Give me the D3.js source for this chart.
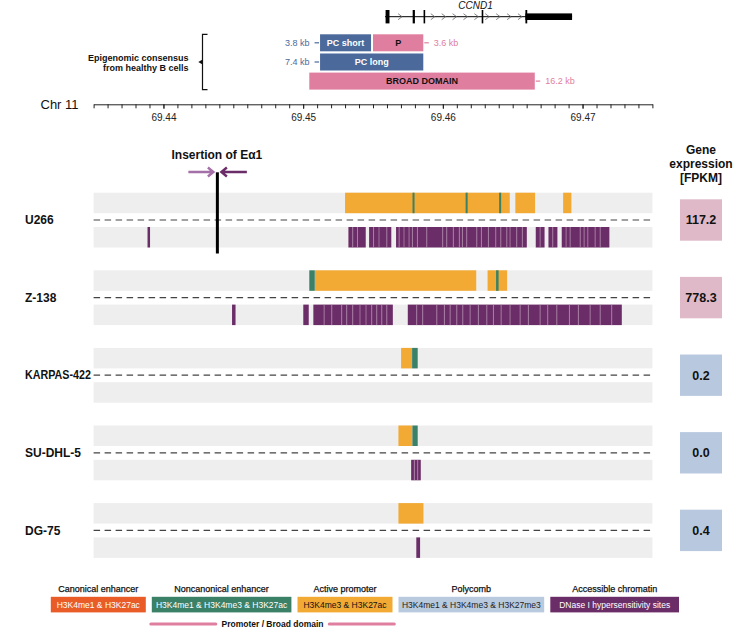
<!DOCTYPE html>
<html>
<head>
<meta charset="utf-8">
<script src="https://cdn.jsdelivr.net/npm/d3@7"></script>
<style>
    body { margin: 0; background: #fff; }
    svg { font-family: "Liberation Sans", Arial, sans-serif; }
</style>
</head>
<body>
<svg id="chart"></svg>
<script>
// genomic window (Mb) and axis ticks
const genomeRange = [69.435, 69.475]
const majorTicks = [69.44, 69.45, 69.46, 69.47]

// CCND1 gene model
const geneName = "CCND1"
const geneSpan = [69.45586, 69.46925]
const geneExons = [[69.45590, 69.45618], [69.45784, 69.45800], [69.45862, 69.45873], [69.46278, 69.46287], [69.46591, 69.46604]]
const geneUtr = [69.46591, 69.46925]

// epigenomic consensus from healthy B cells
const consensusNames = ["PC short", "P", "PC long", "BROAD DOMAIN"]
const consensusStart = [69.45121, 69.45500, 69.45121, 69.45044]
const consensusEnd = [69.45486, 69.45860, 69.45860, 69.46658]
const consensusSize = ["3.8 kb", "3.6 kb", "7.4 kb", "16.2 kb"]
const consensusRow = [0, 0, 1, 2]
const consensusType = ["PC", "P", "PC", "P"]

const insertionPos = 69.44386

// cell lines
const cellLines = ["U266", "Z-138", "KARPAS-422", "SU-DHL-5", "DG-75"]
const fpkm = [117.2, 778.3, 0.2, 0.0, 0.4]

const promoterRegions = [
    [[69.45300, 69.46479], [69.46519, 69.46660], [69.46861, 69.46920]],
    [[69.45083, 69.46239], [69.46320, 69.46460]],
    [[69.45701, 69.45780]],
    [[69.45682, 69.45782]],
    [[69.45682, 69.45861]]
]

const noncanonicalRegions = [
    [[69.45783, 69.45797], [69.46163, 69.46177], [69.46403, 69.46417]],
    [[69.45044, 69.45083], [69.46381, 69.46399]],
    [[69.45780, 69.45820]],
    [[69.45782, 69.45820]],
    []
]

// DNase I hypersensitivity sites, adjacent peaks given as boundary lists
const dhsClusters = [
    [
        [69.43886, 69.43904],
        [69.45324, 69.45355, 69.45389, 69.45448],
        [69.45472, 69.45504, 69.45543, 69.45599, 69.45631],
        [69.45665, 69.45687, 69.45722, 69.45758, 69.45782, 69.45818, 69.45885, 69.45999, 69.46028, 69.46075, 69.46118, 69.46140, 69.46171, 69.46243, 69.46276, 69.46326, 69.46379, 69.46415, 69.46458, 69.46481, 69.46529, 69.46569, 69.46601],
        [69.46665, 69.46696, 69.46728],
        [69.46756, 69.46787, 69.46820],
        [69.46851, 69.46882, 69.46911, 69.46983, 69.47011, 69.47038, 69.47090, 69.47126, 69.47192]
    ],
    [
        [69.44491, 69.44516],
        [69.45001, 69.45040],
        [69.45073, 69.45150, 69.45205, 69.45276, 69.45312, 69.45355, 69.45407, 69.45450, 69.45491, 69.45527, 69.45563, 69.45599, 69.45642],
        [69.45749, 69.45813, 69.45856, 69.45957, 69.46011, 69.46052, 69.46100, 69.46143, 69.46195, 69.46254, 69.46315, 69.46362, 69.46417, 69.46481, 69.46553, 69.46612, 69.46696, 69.46751, 69.46816, 69.46906, 69.46970, 69.47054, 69.47126, 69.47209, 69.47281]
    ],
    [],
    [[69.45773, 69.45796, 69.45820, 69.45842]],
    [[69.45810, 69.45837]]
]

// legend
const legendTitles = ["Canonical enhancer", "Noncanonical enhancer", "Active promoter", "Polycomb", "Accessible chromatin"]
const legendMarks = ["H3K4me1 & H3K27ac", "H3K4me1 & H3K4me3 & H3K27ac", "H3K4me3 & H3K27ac", "H3K4me1 & H3K4me3 & H3K27me3", "DNase I hypersensitivity sites"]

const COLORS = {
    canonical: "#e95c28",
    noncanonical: "#3a8168",
    promoter: "#f2aa35",
    polycomb: "#b9cadf",
    dhs: "#6b2d67",
    band: "#eeeeee",
    pcBlue: "#4b699b",
    pPink: "#e07e9f",
    exprHigh: "#dfb9c8",
    exprLow: "#b8c9df"
}
const legendColors = [COLORS.canonical, COLORS.noncanonical, COLORS.promoter, COLORS.polycomb, COLORS.dhs]
const legendTextColors = ["#fff", "#fff", "#111", "#222", "#fff"]

const W = 733, H = 628

const svg = d3.select('#chart').attr('width', W).attr('height', H)

const x = d3.scaleLinear().domain(genomeRange).range([93.6, 652.4])

// ---- gene track ----
const geneY = 16.7
const gene = svg.append('g')

gene.append('line')
    .attr('x1', x(geneSpan[0])).attr('x2', x(geneSpan[1]))
    .attr('y1', geneY).attr('y2', geneY)
    .attr('stroke', '#000').attr('stroke-width', 1)

// strand chevrons in the introns
const chevrons = d3.range(geneSpan[0] + 0.0003, geneUtr[0] - 0.0002, 0.00078)
    .filter(p => !geneExons.some(e => p > e[0] - 0.00018 && p < e[1] + 0.00018))
gene.selectAll('.chev')
    .data(chevrons)
    .join('path')
        .attr('class', 'chev')
        .attr('d', p => `M${x(p) - 2},${geneY - 3} L${x(p) + 2},${geneY} L${x(p) - 2},${geneY + 3}`)
        .attr('fill', 'none')
        .attr('stroke', '#666')
        .attr('stroke-width', 0.8)

gene.append('rect')
    .attr('x', x(geneUtr[0])).attr('width', x(geneUtr[1]) - x(geneUtr[0]))
    .attr('y', geneY - 3.3).attr('height', 6.6)
    .attr('fill', '#000')

gene.selectAll('.exon')
    .data(geneExons)
    .join('rect')
        .attr('class', 'exon')
        .attr('x', d => x(d[0]))
        .attr('width', d => Math.max(1.6, x(d[1]) - x(d[0])))
        .attr('y', geneY - 6.7)
        .attr('height', 13.4)
        .attr('fill', '#000')

gene.append('text')
    .attr('x', x(d3.mean(geneSpan)) - 3)
    .attr('y', 8.8)
    .attr('text-anchor', 'middle')
    .attr('font-size', 10)
    .attr('font-style', 'italic')
    .attr('fill', '#111')
    .text(geneName)

// ---- consensus ----
const rowTop = [34.3, 53.5, 72.6]
const rowH = 17
const cons = svg.append('g')

cons.append('path')
    .attr('d', `M207.5,${rowTop[0]} H202.5 V${rowTop[2] + rowH} H207.5`)
    .attr('fill', 'none').attr('stroke', '#111').attr('stroke-width', 1.2)
cons.append('path')
    .attr('d', 'M202.5,59.6 L198.3,62 L202.5,64.4 Z')
    .attr('fill', '#111')

cons.selectAll('.ctitle')
    .data(["Epigenomic consensus", "from healthy B cells"])
    .join('text')
        .attr('class', 'ctitle')
        .attr('x', 188.5)
        .attr('y', (d, i) => 60.6 + i * 10.7)
        .attr('text-anchor', 'end')
        .attr('font-size', 9)
        .attr('font-weight', 'bold')
        .attr('fill', '#111')
        .text(d => d)

const consData = consensusNames.map((n, i) => ({
    name: n, start: consensusStart[i], end: consensusEnd[i],
    size: consensusSize[i], row: consensusRow[i], type: consensusType[i]
}))

const cg = cons.selectAll('.cbox')
    .data(consData)
    .join('g')
        .attr('class', 'cbox')

cg.append('rect')
    .attr('x', d => x(d.start))
    .attr('width', d => x(d.end) - x(d.start))
    .attr('y', d => rowTop[d.row])
    .attr('height', rowH)
    .attr('fill', d => d.type == "PC" ? COLORS.pcBlue : COLORS.pPink)

cg.append('text')
    .attr('x', d => (x(d.start) + x(d.end)) / 2)
    .attr('y', d => rowTop[d.row] + rowH / 2 + 3.3)
    .attr('text-anchor', 'middle')
    .attr('font-size', 9)
    .attr('font-weight', 'bold')
    .attr('fill', d => d.type == "PC" ? '#fff' : '#111')
    .text(d => d.name)

// size labels: PC on the left, P/broad on the right
cg.append('line')
    .attr('x1', d => d.type == "PC" ? x(d.start) - 5.5 : x(d.end) + 1)
    .attr('x2', d => d.type == "PC" ? x(d.start) - 1 : x(d.end) + 5.5)
    .attr('y1', d => rowTop[d.row] + rowH / 2)
    .attr('y2', d => rowTop[d.row] + rowH / 2)
    .attr('stroke', d => d.type == "PC" ? COLORS.pcBlue : COLORS.pPink)
    .attr('stroke-width', 1.2)

cg.append('text')
    .attr('x', d => d.type == "PC" ? x(d.start) - 10.5 : x(d.end) + 10.5)
    .attr('y', d => rowTop[d.row] + rowH / 2 + 3.3)
    .attr('text-anchor', d => d.type == "PC" ? 'end' : 'start')
    .attr('font-size', 9)
    .attr('fill', d => d.type == "PC" ? COLORS.pcBlue : COLORS.pPink)
    .text(d => d.size)

// ---- axis ----
const axisY = 104.3
const minorTicks = d3.range(0, 41).map(i => +(genomeRange[0] + i * 0.001).toFixed(3))

const minorAxis = svg.append('g')
    .attr('transform', `translate(0,${axisY})`)
    .call(d3.axisBottom(x).tickValues(minorTicks).tickFormat('').tickSize(4).tickSizeOuter(0))
const majorAxis = svg.append('g')
    .attr('transform', `translate(0,${axisY})`)
    .call(d3.axisBottom(x).tickValues(majorTicks).tickFormat(d3.format('.2f')).tickSize(4.5).tickPadding(5))
majorAxis.select('.domain').remove()
svg.selectAll('.tick line, .domain').attr('stroke', '#222').attr('stroke-width', 1)
majorAxis.selectAll('text')
    .attr('font-family', '"Liberation Sans", Arial, sans-serif')
    .attr('font-size', 10)
    .attr('fill', '#222')

svg.append('text')
    .attr('x', 40.5).attr('y', 109)
    .attr('font-size', 13)
    .attr('fill', '#111')
    .text('Chr 11')

// ---- insertion marker ----
const ix = x(insertionPos)
svg.append('text')
    .attr('x', ix - 0.5).attr('y', 158.6)
    .attr('text-anchor', 'middle')
    .attr('font-size', 12)
    .attr('font-weight', 'bold')
    .attr('fill', '#111')
    .text('Insertion of E\u03b11')

const arrowY = 172
svg.append('path')
    .attr('d', `M${ix - 29},${arrowY} H${ix - 4} M${ix - 9.5},${arrowY - 4.5} L${ix - 4},${arrowY} L${ix - 9.5},${arrowY + 4.5}`)
    .attr('fill', 'none').attr('stroke', '#a56fa8').attr('stroke-width', 2.4)
svg.append('path')
    .attr('d', `M${ix + 29.5},${arrowY} H${ix + 4} M${ix + 9.5},${arrowY - 4.5} L${ix + 4},${arrowY} L${ix + 9.5},${arrowY + 4.5}`)
    .attr('fill', 'none').attr('stroke', COLORS.dhs).attr('stroke-width', 2.4)

// ---- expression header ----
svg.selectAll('.ehead')
    .data(["Gene", "expression", "[FPKM]"])
    .join('text')
        .attr('class', 'ehead')
        .attr('x', 701)
        .attr('y', (d, i) => 154.3 + i * 13.6)
        .attr('text-anchor', 'middle')
        .attr('font-size', 12)
        .attr('font-weight', 'bold')
        .attr('fill', '#111')
        .text(d => d)

// ---- cell line tracks ----
const trackTop0 = 192.7
const trackPitch = 77.6
const bandH = 20.5
const dashOff = 27.3
const lowOff = 34.3
const labelMaxW = 66

const fmt = d3.format('.1f')

cellLines.forEach((name, i) => {
    const g = svg.append('g').attr('transform', `translate(0,${trackTop0 + i * trackPitch})`)

    g.append('rect')
        .attr('x', x.range()[0]).attr('width', x.range()[1] - x.range()[0])
        .attr('y', 0).attr('height', bandH)
        .attr('fill', COLORS.band)
    g.append('rect')
        .attr('x', x.range()[0]).attr('width', x.range()[1] - x.range()[0])
        .attr('y', lowOff).attr('height', bandH)
        .attr('fill', COLORS.band)

    g.append('line')
        .attr('x1', x.range()[0]).attr('x2', x.range()[1])
        .attr('y1', dashOff).attr('y2', dashOff)
        .attr('stroke', '#444').attr('stroke-width', 1.2)
        .attr('stroke-dasharray', '6.5,4.5')

    g.selectAll('.prom')
        .data(promoterRegions[i])
        .join('rect')
            .attr('class', 'prom')
            .attr('x', d => x(d[0]))
            .attr('width', d => x(d[1]) - x(d[0]))
            .attr('y', 0).attr('height', bandH)
            .attr('fill', COLORS.promoter)

    g.selectAll('.nonc')
        .data(noncanonicalRegions[i])
        .join('rect')
            .attr('class', 'nonc')
            .attr('x', d => x(d[0]))
            .attr('width', d => Math.max(2, x(d[1]) - x(d[0])))
            .attr('y', 0).attr('height', bandH)
            .attr('fill', COLORS.noncanonical)

    const peaks = []
    const seps = []
    dhsClusters[i].forEach(c => {
        for (let k = 0; k < c.length - 1; k++) peaks.push([c[k], c[k + 1]])
        for (let k = 1; k < c.length - 1; k++) seps.push(c[k])
    })

    g.selectAll('.dhs')
        .data(peaks)
        .join('rect')
            .attr('class', 'dhs')
            .attr('x', d => x(d[0]))
            .attr('width', d => Math.max(1.8, x(d[1]) - x(d[0])))
            .attr('y', lowOff).attr('height', bandH)
            .attr('fill', COLORS.dhs)

    g.selectAll('.sep')
        .data(seps)
        .join('line')
            .attr('class', 'sep')
            .attr('x1', d => x(d)).attr('x2', d => x(d))
            .attr('y1', lowOff).attr('y2', lowOff + bandH)
            .attr('stroke', '#b48fb0')
            .attr('stroke-width', 0.7)

    const lab = g.append('text')
        .attr('x', 25).attr('y', dashOff + 4.3)
        .attr('font-size', 12)
        .attr('font-weight', 'bold')
        .attr('fill', '#111')
        .text(name)
    if (lab.node().getComputedTextLength() > labelMaxW)
        lab.attr('textLength', labelMaxW).attr('lengthAdjust', 'spacingAndGlyphs')

    g.append('rect')
        .attr('x', 680).attr('width', 42)
        .attr('y', dashOff - 20.7).attr('height', 41.4)
        .attr('fill', fpkm[i] >= 10 ? COLORS.exprHigh : COLORS.exprLow)
    g.append('text')
        .attr('x', 701).attr('y', dashOff + 4.5)
        .attr('text-anchor', 'middle')
        .attr('font-size', 12.5)
        .attr('font-weight', 'bold')
        .attr('fill', '#111')
        .text(fmt(fpkm[i]))
})

// insertion line drawn over the U266 track
svg.append('line')
    .attr('x1', ix).attr('x2', ix)
    .attr('y1', 172.3).attr('y2', 253.5)
    .attr('stroke', '#000').attr('stroke-width', 3)

// ---- legend ----
const legendX = [50.8, 151.8, 297.5, 398.5, 550.3]
const legendW = [95, 139.6, 95, 145.7, 128.7]
const legend = svg.append('g')

legendTitles.forEach((t, i) => {
    const cx = legendX[i] + legendW[i] / 2
    legend.append('text')
        .attr('x', cx).attr('y', 592.2)
        .attr('text-anchor', 'middle')
        .attr('font-size', 9)
        .attr('fill', '#111')
        .attr('stroke', '#111')
        .attr('stroke-width', 0.25)
        .text(t)
    legend.append('rect')
        .attr('x', legendX[i]).attr('width', legendW[i])
        .attr('y', 596.8).attr('height', 15.6)
        .attr('fill', legendColors[i])
    legend.append('text')
        .attr('x', cx).attr('y', 607.6)
        .attr('text-anchor', 'middle')
        .attr('font-size', 8.5)
        .attr('fill', legendTextColors[i])
        .text(legendMarks[i])
})

legend.selectAll('.pline')
    .data([[150.8, 215.8], [329.3, 394.3]])
    .join('line')
        .attr('class', 'pline')
        .attr('x1', d => d[0]).attr('x2', d => d[1])
        .attr('y1', 624).attr('y2', 624)
        .attr('stroke', COLORS.pPink)
        .attr('stroke-width', 3)
        .attr('stroke-linecap', 'round')
legend.append('text')
    .attr('x', 272.5).attr('y', 627.2)
    .attr('text-anchor', 'middle')
    .attr('font-size', 8.5)
    .attr('font-weight', 'bold')
    .attr('fill', '#111')
    .text('Promoter / Broad domain')
</script>
</body>
</html>
